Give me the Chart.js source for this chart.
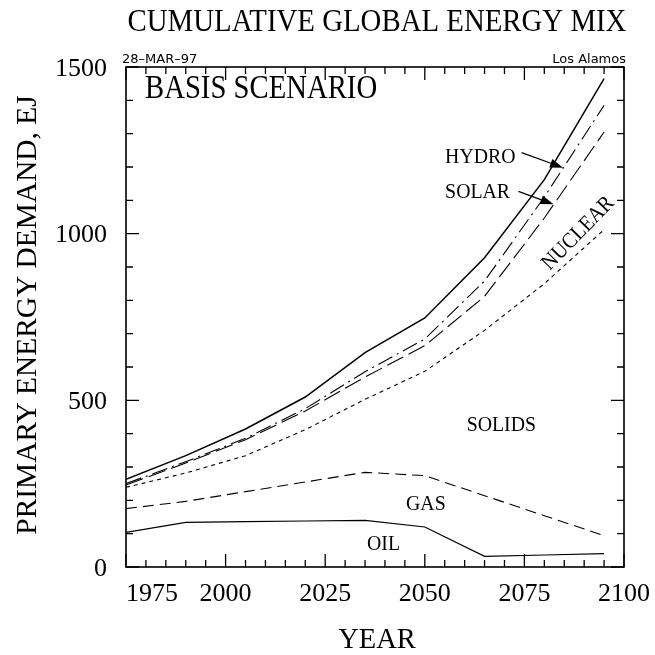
<!DOCTYPE html>
<html>
<head>
<meta charset="utf-8">
<script src="https://cdn.jsdelivr.net/npm/chart.js@4.4.1/dist/chart.umd.min.js"></script>
<style>
  html, body { margin: 0; padding: 0; background: #fff; }
  #wrap { width: 655px; height: 655px; }
</style>
</head>
<body>
<div id="wrap"><canvas id="mixChart" width="655" height="655"></canvas></div>
<script>
// cumulative tops of each band, EJ
const years   = [1975, 1990, 2005, 2020, 2035, 2050, 2065, 2080, 2095];
const oil     = [104, 134, 136, 138, 140, 120, 32, 36, 40];
const gas     = [175, 197, 226, 255, 284, 274, 214, 154, 94];
const solids  = [239, 282, 334, 412, 503, 587, 710, 850, 1012];
const nuclear = [246, 312, 382, 468, 570, 664, 812, 1047, 1305];
const solar   = [250, 316, 386, 475, 586, 684, 858, 1110, 1385];
const hydro   = [263, 334, 414, 510, 643, 747, 928, 1162, 1465];

const xTickLabels = [1975, 2000, 2025, 2050, 2075, 2100];
const yTickLabels = [0, 500, 1000, 1500];

const serif = '"Liberation Serif", "Times New Roman", serif';

function series(label, values, dash, width) {
  return {
    label: label,
    data: years.map((yr, i) => ({ x: yr, y: values[i] })),
    borderColor: "#000",
    borderWidth: width,
    borderDash: dash,
    pointRadius: 0,
    fill: false,
    tension: 0
  };
}

function text(ctx, str, x, y, size, sx, align) {
  ctx.save();
  ctx.font = size + "px " + serif;
  ctx.translate(x, y);
  ctx.scale(sx, 1);
  ctx.textAlign = align || "left";
  ctx.textBaseline = "alphabetic";
  ctx.fillText(str, 0, 0);
  ctx.restore();
}

function arrow(ctx, x0, y0, x1, y1) {
  const ang = Math.atan2(y1 - y0, x1 - x0);
  ctx.beginPath();
  ctx.moveTo(x0, y0);
  ctx.lineTo(x1 - 10 * Math.cos(ang), y1 - 10 * Math.sin(ang));
  ctx.stroke();
  ctx.beginPath();
  ctx.moveTo(x1, y1);
  ctx.lineTo(x1 - 13 * Math.cos(ang) + 4.5 * Math.sin(ang), y1 - 13 * Math.sin(ang) - 4.5 * Math.cos(ang));
  ctx.lineTo(x1 - 13 * Math.cos(ang) - 4.5 * Math.sin(ang), y1 - 13 * Math.sin(ang) + 4.5 * Math.cos(ang));
  ctx.closePath();
  ctx.fill();
}

// frame, inward ticks and all text
const decorations = {
  id: "decorations",
  afterDraw(chart) {
    const { ctx, chartArea: a, scales: { x, y } } = chart;
    ctx.save();
    ctx.strokeStyle = "#000";
    ctx.fillStyle = "#000";
    ctx.lineWidth = 1.6;
    ctx.strokeRect(a.left, a.top, a.right - a.left, a.bottom - a.top);

    ctx.lineWidth = 1.3;
    ctx.beginPath();
    for (let v = 1975; v <= 2100; v += 5) {
      const px = x.getPixelForValue(v);
      const len = (v - 1975) % 25 === 0 ? 13 : 7;
      ctx.moveTo(px, a.bottom); ctx.lineTo(px, a.bottom - len);
      ctx.moveTo(px, a.top); ctx.lineTo(px, a.top + len);
    }
    for (let v = 0; v <= 1500; v += 100) {
      const py = y.getPixelForValue(v);
      const len = v % 500 === 0 ? 13 : 7;
      ctx.moveTo(a.left, py); ctx.lineTo(a.left + len, py);
      ctx.moveTo(a.right, py); ctx.lineTo(a.right - len, py);
    }
    ctx.stroke();

    // tick labels
    xTickLabels.forEach((v, i) => {
      const px = x.getPixelForValue(v);
      text(ctx, String(v), px, a.bottom + 34, 26, 1, i === 0 ? "left" : "center");
    });
    yTickLabels.forEach(v => {
      text(ctx, String(v), a.left - 19, y.getPixelForValue(v) + 8.5, 26, 1, "right");
    });

    // titles
    text(ctx, "CUMULATIVE GLOBAL ENERGY MIX", 377, 31, 31, 0.93, "center");
    text(ctx, "YEAR", (a.left + a.right) / 2 + 2, 648, 30, 0.95, "center");
    ctx.save();
    ctx.translate(36, (a.top + a.bottom) / 2 - 2);
    ctx.rotate(-Math.PI / 2);
    text(ctx, "PRIMARY ENERGY DEMAND, EJ", 0, 0, 30, 0.98, "center");
    ctx.restore();

    ctx.font = '13px "DejaVu Sans", sans-serif';
    ctx.textBaseline = "alphabetic";
    ctx.textAlign = "left";
    ctx.fillText("28\u2013MAR\u201397", a.left - 4, 63);
    ctx.textAlign = "right";
    ctx.fillText("Los Alamos", a.right + 2, 63);

    text(ctx, "BASIS SCENARIO", a.left + 19, a.top + 31, 33, 0.87, "left");

    // band labels, placed in data units
    const P = (yr, val) => [x.getPixelForValue(yr), y.getPixelForValue(val)];
    let p;
    p = P(2055.1, 1213); text(ctx, "HYDRO", p[0], p[1], 22, 0.9, "left");
    p = P(2055.1, 1108); text(ctx, "SOLAR", p[0], p[1], 22, 0.9, "left");
    p = P(2060.5, 407);  text(ctx, "SOLIDS", p[0], p[1], 22, 0.9, "left");
    p = P(2045.3, 172);  text(ctx, "GAS", p[0], p[1], 22, 0.9, "left");
    p = P(2035.5, 50);   text(ctx, "OIL", p[0], p[1], 22, 0.9, "left");

    p = P(2088.3, 1003);
    ctx.save();
    ctx.translate(p[0], p[1]);
    ctx.rotate(-45.6 * Math.PI / 180);
    text(ctx, "NUCLEAR", 0, 7, 22, 0.9, "center");
    ctx.restore();

    ctx.lineWidth = 1.2;
    const h0 = P(2074.3, 1243), h1 = P(2084.7, 1198);
    arrow(ctx, h0[0], h0[1], h1[0], h1[1]);
    const s0 = P(2073.5, 1127), s1 = P(2082.3, 1088);
    arrow(ctx, s0[0], s0[1], s1[0], s1[1]);
    ctx.restore();
  }
};

new Chart(document.getElementById("mixChart"), {
  type: "line",
  data: {
    datasets: [
      series("Oil", oil, [], 1.2),
      series("Gas", gas, [11, 6], 1.1),
      series("Solids", solids, [4, 4], 1.1),
      series("Nuclear", nuclear, [18, 6], 1.1),
      series("Solar", solar, [16, 5, 2, 5], 1.1),
      series("Hydro", hydro, [], 1.5)
    ]
  },
  options: {
    responsive: false,
    animation: false,
    devicePixelRatio: 1,
    layout: { padding: { left: 126, right: 31, top: 67, bottom: 88 } },
    plugins: { legend: { display: false }, tooltip: { enabled: false } },
    scales: {
      x: { type: "linear", min: 1975, max: 2100, display: false },
      y: { type: "linear", min: 0, max: 1500, display: false }
    }
  },
  plugins: [decorations]
});
</script>
</body>
</html>
